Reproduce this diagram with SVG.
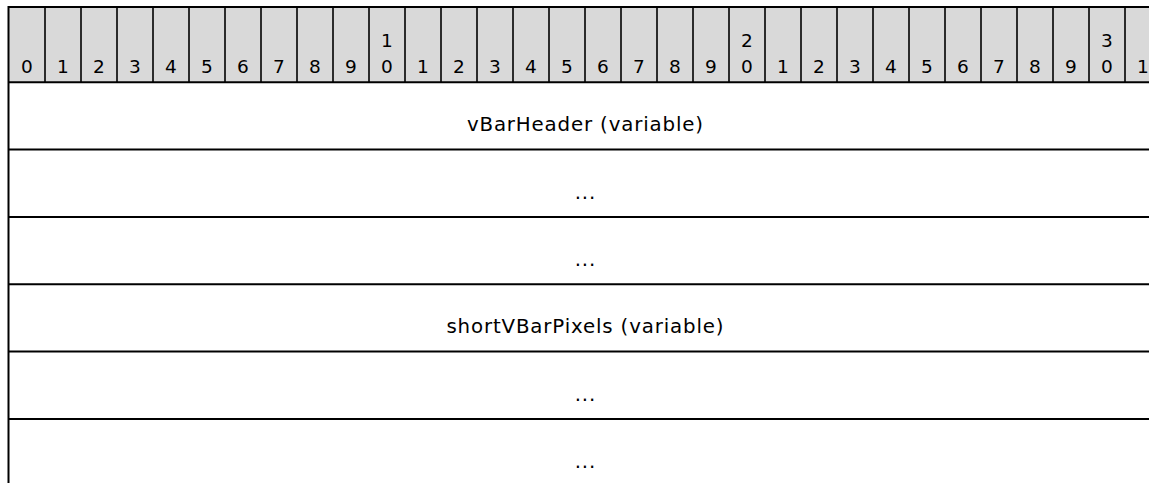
<svg xmlns="http://www.w3.org/2000/svg" width="1149" height="483" viewBox="0 0 1149 483">
<style>
.bg{fill:#ffffff}
.hdr{fill:#d9d9d9}
.ln{stroke:#000;stroke-width:2;fill:none}
.dv{stroke:#000;stroke-width:1.6;fill:none}
.num{font-family:"DejaVu Sans",Verdana,sans-serif;font-size:18.5px;fill:#000;text-anchor:middle}
.lbl{font-family:"DejaVu Sans",Verdana,sans-serif;font-size:19.8px;letter-spacing:0.85px;fill:#000;text-anchor:middle}
</style>
<rect class="bg" x="0" y="0" width="1149" height="483"/>
<g id="header">
<rect class="hdr" x="9" y="7" width="1152" height="75"/>
<line class="ln" x1="8" y1="7" x2="1149" y2="7"/>
<g class="dv">
<line x1="45" y1="7" x2="45" y2="82"/><line x1="81" y1="7" x2="81" y2="82"/><line x1="117" y1="7" x2="117" y2="82"/><line x1="153" y1="7" x2="153" y2="82"/><line x1="189" y1="7" x2="189" y2="82"/><line x1="225" y1="7" x2="225" y2="82"/><line x1="261" y1="7" x2="261" y2="82"/><line x1="297" y1="7" x2="297" y2="82"/><line x1="333" y1="7" x2="333" y2="82"/><line x1="369" y1="7" x2="369" y2="82"/><line x1="405" y1="7" x2="405" y2="82"/><line x1="441" y1="7" x2="441" y2="82"/><line x1="477" y1="7" x2="477" y2="82"/><line x1="513" y1="7" x2="513" y2="82"/><line x1="549" y1="7" x2="549" y2="82"/><line x1="585" y1="7" x2="585" y2="82"/><line x1="621" y1="7" x2="621" y2="82"/><line x1="657" y1="7" x2="657" y2="82"/><line x1="693" y1="7" x2="693" y2="82"/><line x1="729" y1="7" x2="729" y2="82"/><line x1="765" y1="7" x2="765" y2="82"/><line x1="801" y1="7" x2="801" y2="82"/><line x1="837" y1="7" x2="837" y2="82"/><line x1="873" y1="7" x2="873" y2="82"/><line x1="909" y1="7" x2="909" y2="82"/><line x1="945" y1="7" x2="945" y2="82"/><line x1="981" y1="7" x2="981" y2="82"/><line x1="1017" y1="7" x2="1017" y2="82"/><line x1="1053" y1="7" x2="1053" y2="82"/><line x1="1089" y1="7" x2="1089" y2="82"/><line x1="1125" y1="7" x2="1125" y2="82"/>
</g>
<g class="num">
<text x="27" y="73">0</text><text x="63" y="73">1</text><text x="99" y="73">2</text><text x="135" y="73">3</text><text x="171" y="73">4</text><text x="207" y="73">5</text><text x="243" y="73">6</text><text x="279" y="73">7</text><text x="315" y="73">8</text><text x="351" y="73">9</text>
<text x="387" y="47">1</text><text x="387" y="73">0</text>
<text x="423" y="73">1</text><text x="459" y="73">2</text><text x="495" y="73">3</text><text x="531" y="73">4</text><text x="567" y="73">5</text><text x="603" y="73">6</text><text x="639" y="73">7</text><text x="675" y="73">8</text><text x="711" y="73">9</text>
<text x="747" y="47">2</text><text x="747" y="73">0</text>
<text x="783" y="73">1</text><text x="819" y="73">2</text><text x="855" y="73">3</text><text x="891" y="73">4</text><text x="927" y="73">5</text><text x="963" y="73">6</text><text x="999" y="73">7</text><text x="1035" y="73">8</text><text x="1071" y="73">9</text>
<text x="1107" y="47">3</text><text x="1107" y="73">0</text>
<text x="1143" y="73">1</text>
</g>
<line class="ln" x1="8" y1="82.3" x2="1149" y2="82.3"/>
</g>
<g id="row-vBarHeader">
<text class="lbl" x="585.4" y="131">vBarHeader (variable)</text>
<line class="ln" x1="8" y1="149.6" x2="1149" y2="149.6"/>
</g>
<g id="row-ellipsis-1">
<text class="lbl" x="585.4" y="198.5">...</text>
<line class="ln" x1="8" y1="217" x2="1149" y2="217"/>
</g>
<g id="row-ellipsis-2">
<text class="lbl" x="585.4" y="266">...</text>
<line class="ln" x1="8" y1="284.3" x2="1149" y2="284.3"/>
</g>
<g id="row-shortVBarPixels">
<text class="lbl" x="585.4" y="333">shortVBarPixels (variable)</text>
<line class="ln" x1="8" y1="351.6" x2="1149" y2="351.6"/>
</g>
<g id="row-ellipsis-3">
<text class="lbl" x="585.4" y="400.5">...</text>
<line class="ln" x1="8" y1="419" x2="1149" y2="419"/>
</g>
<g id="row-ellipsis-4">
<text class="lbl" x="585.4" y="468">...</text>
</g>
<line id="left-border" class="ln" x1="8.5" y1="6" x2="8.5" y2="483"/>
</svg>
